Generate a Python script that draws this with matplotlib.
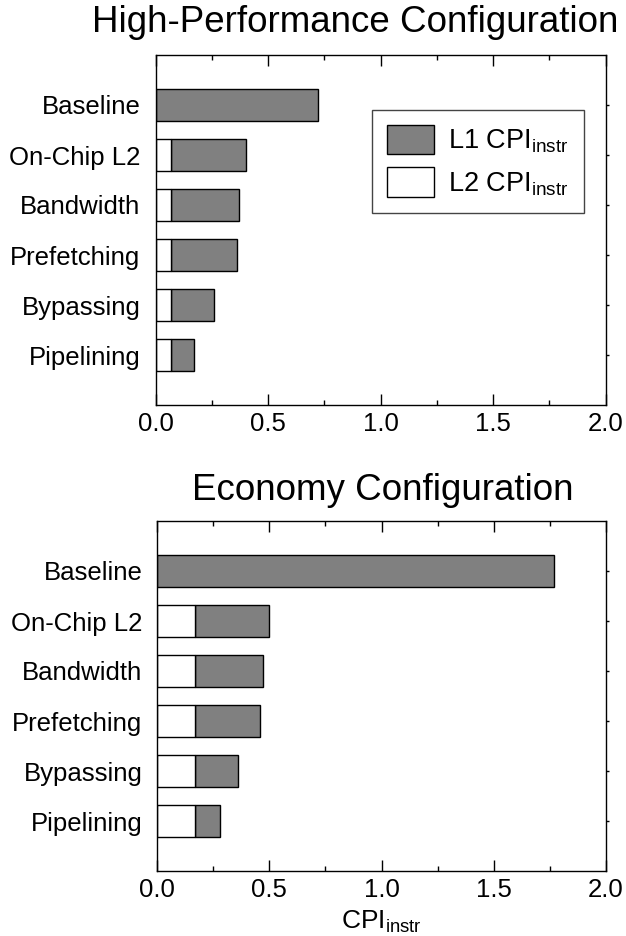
import numpy as np
import matplotlib
matplotlib.use('Agg')
import matplotlib.pyplot as plt
from matplotlib.ticker import MultipleLocator

plt.rcParams['font.family'] = ['Liberation Sans', 'DejaVu Sans']
plt.rcParams['mathtext.fontset'] = 'custom'
plt.rcParams['mathtext.rm'] = 'Liberation Sans'
plt.rcParams['mathtext.it'] = 'Liberation Sans:italic'

# data
categories = ['Baseline', 'On-Chip L2', 'Bandwidth', 'Prefetching', 'Bypassing', 'Pipelining']
hp_l2 = [0.0, 0.07, 0.07, 0.07, 0.07, 0.07]
hp_l1 = [0.72, 0.33, 0.30, 0.29, 0.19, 0.10]
eco_l2 = [0.0, 0.17, 0.17, 0.17, 0.17, 0.17]
eco_l1 = [1.77, 0.33, 0.30, 0.29, 0.19, 0.11]
titles = ['High-Performance Configuration', 'Economy Configuration']
xticks = [0.0, 0.5, 1.0, 1.5, 2.0]

W, H = 626, 936
fig = plt.figure(figsize=(W / 100, H / 100), dpi=100)


def px_axes(left, top, right, bottom):
    return fig.add_axes([left / W, 1 - bottom / H, (right - left) / W, (bottom - top) / H])


ax1 = px_axes(155.5, 55, 605.7, 405)
ax2 = px_axes(157.3, 521, 605.7, 871)

ypos = np.arange(len(categories), 0, -1)
fs = 18.5


def draw_panel(ax, l2, l1):
    l2 = np.array(l2)
    l1 = np.array(l1)
    ax.barh(ypos, l1, left=l2, height=0.63, color='#808080', edgecolor='black',
            linewidth=1, label=r'L1 CPI$_{\mathrm{instr}}$', zorder=2)
    mask = l2 > 0
    ax.barh(ypos[mask], l2[mask], height=0.63, color='white', edgecolor='black',
            linewidth=1, label=r'L2 CPI$_{\mathrm{instr}}$', zorder=2)
    ax.set_xlim(0, 2.0)
    ax.set_ylim(0, 7)
    ax.set_xticks(xticks)
    ax.set_xticklabels(['%.1f' % t for t in xticks], fontsize=fs)
    ax.xaxis.set_minor_locator(MultipleLocator(0.25))
    ax.tick_params(axis='x', which='major', direction='in', length=8, width=1,
                   top=True, pad=5)
    ax.tick_params(axis='x', which='minor', direction='in', length=3.6, width=1, top=True)
    ax.set_yticks(ypos)
    ax.set_yticklabels(categories, fontsize=fs)
    ax.tick_params(axis='y', left=False, right=True, direction='out', length=1.8,
                   width=1, pad=9)
    for s in ax.spines.values():
        s.set_linewidth(1)
        s.set_color('black')


draw_panel(ax1, hp_l2, hp_l1)
draw_panel(ax2, eco_l2, eco_l1)

leg = ax1.legend(loc='upper left', bbox_to_anchor=(0.481, 0.843), borderaxespad=0,
                 fontsize=19.5, handlelength=1.75, handleheight=1.3, handletextpad=0.5,
                 borderpad=0.55, labelspacing=0.45, fancybox=False, framealpha=1)
leg.get_frame().set_edgecolor('#444444')
leg.get_frame().set_linewidth(1)

ax2.set_xlabel(r'CPI$_{\mathrm{instr}}$', fontsize=19, labelpad=5)

fig.text(355 / W, 1 - 31.5 / H, titles[0], fontsize=26.5, ha='center', va='baseline')
fig.text(383 / W, 1 - 499.5 / H, titles[1], fontsize=26.5, ha='center', va='baseline')

fig.savefig('out.png', dpi=100)
